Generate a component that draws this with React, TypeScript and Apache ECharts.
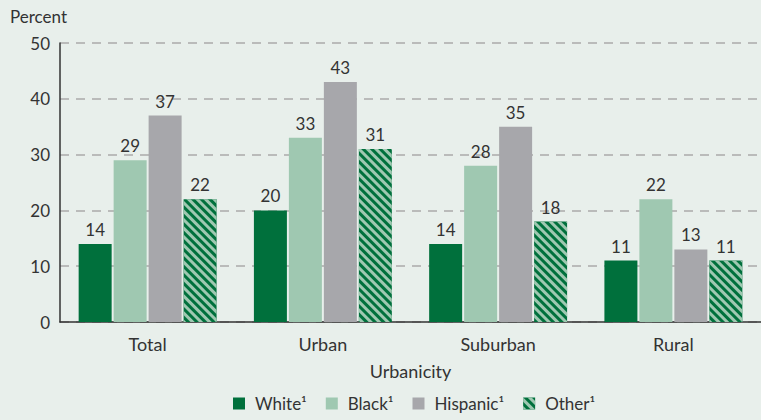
import React, { useEffect, useRef } from "react";
import * as echarts from "echarts";

const categories = ["Total", "Urban", "Suburban", "Rural"];
const seriesNames = ["White", "Black", "Hispanic", "Other"];
const white = [14, 20, 14, 11];
const black = [29, 33, 28, 22];
const hispanic = [37, 43, 35, 13];
const other = [22, 31, 18, 11];
const yTicks = [0, 10, 20, 30, 40, 50];

const DARK = "#00703c";
const LIGHT = "#9fc8b1";
const GRAY = "#a7a7ab";
const TEXT = "#333333";
const FONT = "Lato, 'Open Sans', sans-serif";

export default function App() {
  const ref = useRef<HTMLDivElement>(null);
  useEffect(() => {
    if (!ref.current) return;
    const chart = echarts.init(ref.current, undefined, { renderer: "svg" });
    const values = [white, black, hispanic, other];
    const colors = [DARK, LIGHT, GRAY, DARK];
    const series = values.map((data, i) => ({
      name: seriesNames[i],
      type: "bar",
      data,
      barWidth: 33,
      barGap: "6%",
      barCategoryGap: "20%",
      itemStyle: {
        color: colors[i],
        ...(i === 3
          ? {
              decal: {
                symbol: "rect",
                color: LIGHT,
                backgroundColor: DARK,
                dashArrayX: [1, 0],
                dashArrayY: [2.5, 3],
                rotation: Math.PI / 4,
                symbolSize: 1,
              },
            }
          : {}),
      },
      label: {
        show: true,
        position: "top",
        distance: 6,
        color: TEXT,
        fontSize: 17,
        fontFamily: FONT,
      },
    }));
    chart.setOption({
      animation: false,
      backgroundColor: "#e8efeb",
      textStyle: { fontFamily: FONT, color: TEXT },
      grid: { left: 60, right: 0, top: 43, bottom: 98, containLabel: false },
      legend: {
        bottom: 3,
        left: 228,
        itemWidth: 12,
        itemHeight: 12,
        itemGap: 19,
        icon: "rect",
        textStyle: {
          color: TEXT,
          fontSize: 17,
          fontFamily: FONT,
          padding: [0, 0, 0, 5],
        },
        formatter: (n: string) => `${n}\u00B9`,
        data: seriesNames,
      },
      xAxis: {
        type: "category",
        data: categories,
        name: "Urbanicity",
        nameLocation: "middle",
        nameGap: 40,
        nameTextStyle: { color: TEXT, fontSize: 18, fontFamily: FONT },
        axisLine: { lineStyle: { color: TEXT, width: 1.5 } },
        axisTick: { show: false },
        axisLabel: { color: TEXT, fontSize: 18, fontFamily: FONT, margin: 13 },
      },
      yAxis: {
        type: "value",
        min: yTicks[0],
        max: yTicks[yTicks.length - 1],
        interval: 10,
        name: "Percent",
        nameLocation: "end",
        nameGap: 18,
        nameTextStyle: { color: TEXT, fontSize: 17, fontFamily: FONT, align: "left", padding: [0, 0, 0, -50] },
        axisLine: { show: true, lineStyle: { color: TEXT, width: 1.5 } },
        axisTick: { show: false },
        axisLabel: { color: TEXT, fontSize: 17, fontFamily: FONT, margin: 10 },
        splitLine: { lineStyle: { color: "#aaaaaa", type: [9, 7], width: 1.5 } },
      },
      series,
    });
    return () => chart.dispose();
  }, []);
  return <div ref={ref} style={{ width: 761, height: 420, position: "absolute", left: 0, top: 0 }} />;
}
